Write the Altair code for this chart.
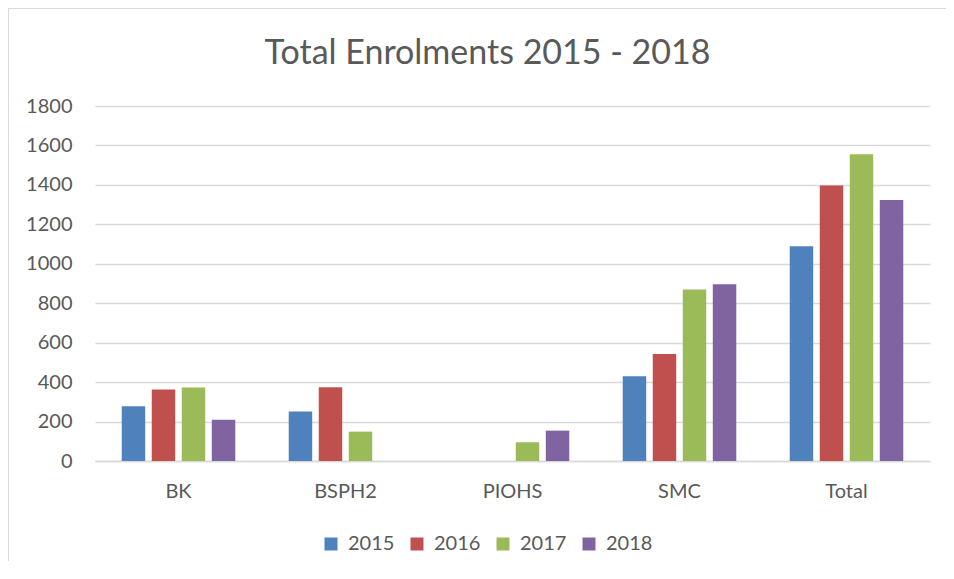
import altair as alt
import pandas as pd

categories = ["BK", "BSPH2", "PIOHS", "SMC", "Total"]
years = ["2015", "2016", "2017", "2018"]
v2015 = [277, 251, 0, 430, 1089]
v2016 = [362, 374, 0, 542, 1397]
v2017 = [373, 149, 95, 870, 1555]
v2018 = [209, 0, 154, 896, 1324]
colors = ["#4F81BD", "#C0504D", "#9BBB59", "#8064A2"]
y_ticks = list(range(0, 1801, 200))

rows = []
for yr, vals in zip(years, [v2015, v2016, v2017, v2018]):
    for c, v in zip(categories, vals):
        rows.append({"School": c, "Year": yr, "Enrolments": v})
df = pd.DataFrame(rows)

FONT = "Lato"
TXT = "#595959"
GRID = "#D9D9D9"

bars = alt.Chart(df).mark_bar().encode(
    x=alt.X("School:N", sort=categories,
            scale=alt.Scale(paddingInner=0.32, paddingOuter=0.16),
            axis=alt.Axis(title=None, labelAngle=0, tickSize=0, domain=True,
                          domainColor=GRID, domainWidth=1.5, labelFont=FONT,
                          labelFontSize=20, labelColor=TXT, labelPadding=20,
                          grid=False)),
    xOffset=alt.XOffset("Year:N", sort=years,
                        scale=alt.Scale(paddingInner=0.218, paddingOuter=0)),
    y=alt.Y("Enrolments:Q",
            scale=alt.Scale(domain=[0, 1800], nice=False),
            axis=alt.Axis(title=None, values=y_ticks, format="d", tickSize=0,
                          domain=False, grid=True, gridColor=GRID, gridWidth=1.5,
                          labelFont=FONT, labelFontSize=20, labelColor=TXT,
                          labelPadding=23)),
    color=alt.Color("Year:N", sort=years,
                    scale=alt.Scale(domain=years, range=colors),
                    legend=alt.Legend(title=None, orient="none", direction="horizontal",
                                      legendX=226, legendY=428,
                                      symbolType="square", symbolSize=169,
                                      symbolStrokeWidth=0,
                                      labelFont=FONT, labelFontSize=20,
                                      labelColor=TXT, labelOffset=7,
                                      columnPadding=12)),
)

top_line = alt.Chart(df).mark_rule(color=GRID, strokeWidth=2).encode(
    x=alt.value(-87), x2=alt.value(851), y=alt.value(-98)
)
left_line = alt.Chart(df).mark_rule(color=GRID, strokeWidth=2).encode(
    x=alt.value(-87), y=alt.value(-98), y2=alt.value(462)
)

chart = alt.layer(top_line, left_line, bars).properties(
    width=835, height=355,
    title=alt.TitleParams("Total Enrolments 2015 - 2018", font=FONT, fontSize=34,
                          fontWeight="normal", color=TXT, anchor="middle",
                          baseline="alphabetic", dx=-25, dy=35, offset=-56),
    autosize=alt.AutoSizeParams(type="none"),
    padding={"left": 87, "top": 98, "right": 16, "bottom": 100},
).configure_view(stroke=None)

chart.save("out.html", embed_options={"renderer": "svg", "actions": False})
